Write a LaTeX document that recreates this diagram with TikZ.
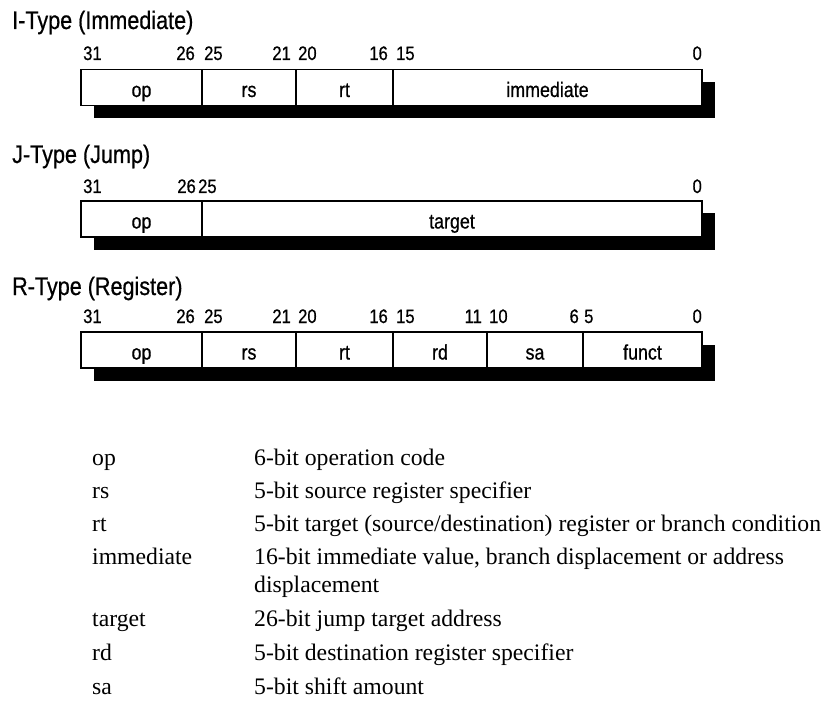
\documentclass[tikz,border=0pt]{standalone}
\usepackage{fontspec}
\setmainfont{Liberation Serif}
\newfontfamily\narrowsans{Liberation Sans}[FakeStretch=0.85, FakeBold=0.6]
\usetikzlibrary{positioning}

\begin{document}
\begin{tikzpicture}[x=1pt, y=-1pt,
  title/.style={anchor=base west, inner sep=0pt, font=\narrowsans\fontsize{25.4}{30}\selectfont},
  bitno/.style={inner sep=0pt, font=\narrowsans\fontsize{19.5}{22}\selectfont},
  field/.style={rectangle, draw=black, fill=white, line width=1.8pt, minimum height=36, inner sep=0pt, outer sep=0pt, text height=20, text depth=1, font=\narrowsans\fontsize{21}{24}\selectfont},
  shade/.style={fill=black},
  term/.style={anchor=base west, inner sep=0pt, font=\fontsize{23.7}{28}\selectfont},
  descr/.style={anchor=base west, inner sep=0pt, font=\fontsize{23.7}{28}\selectfont}
]
\useasboundingbox (0,0) rectangle (826,719);

% I-Type
\node[title] (ititle) at (12,29) {I-Type (Immediate)};
\fill[shade] (93.5,82) rectangle (714.5,118);
\node[field, minimum width=121] (iop) at (141.5,87.5) {op};
\node[field, minimum width=94] (irs) at (249,87.5) {rs};
\node[field, minimum width=97] (irt) at (344.5,87.5) {rt};
\node[field, minimum width=309] (iimm) at (547.5,87.5) {immediate};
\node[bitno, anchor=base west] (i31) at (83,60) {31};
\node[bitno, anchor=base east] (i26) at (195,60) {26};
\node[bitno, anchor=base west] (i25) at (204,60) {25};
\node[bitno, anchor=base east] (i21) at (291,60) {21};
\node[bitno, anchor=base west] (i20) at (298,60) {20};
\node[bitno, anchor=base east] (i16) at (388,60) {16};
\node[bitno, anchor=base west] (i15) at (396,60) {15};
\node[bitno, anchor=base east] (i0) at (702,60) {0};

% J-Type
\node[title] (jtitle) at (12,163) {J-Type (Jump)};
\fill[shade] (93.5,213.5) rectangle (714.5,249.5);
\node[field, minimum width=121] (jop) at (141.5,219) {op};
\node[field, minimum width=500] (jtarget) at (452,219) {target};
\node[bitno, anchor=base west] (j31) at (83,193) {31};
\node[bitno, anchor=base east] (j26) at (196,193) {26};
\node[bitno, anchor=base west] (j25) at (198,193) {25};
\node[bitno, anchor=base east] (j0) at (702,193) {0};

% R-Type
\node[title] (rtitle) at (12,295) {R-Type (Register)};
\fill[shade] (93.5,344.5) rectangle (714.5,380.5);
\node[field, minimum width=121] (rop) at (141.5,350) {op};
\node[field, minimum width=94] (rrs) at (249,350) {rs};
\node[field, minimum width=97] (rrt) at (344.5,350) {rt};
\node[field, minimum width=94] (rrd) at (440,350) {rd};
\node[field, minimum width=96] (rsa) at (535,350) {sa};
\node[field, minimum width=119] (rfunct) at (642.5,350) {funct};
\node[bitno, anchor=base west] (r31) at (83,323) {31};
\node[bitno, anchor=base east] (r26) at (195,323) {26};
\node[bitno, anchor=base west] (r25) at (204,323) {25};
\node[bitno, anchor=base east] (r21) at (291,323) {21};
\node[bitno, anchor=base west] (r20) at (298,323) {20};
\node[bitno, anchor=base east] (r16) at (388,323) {16};
\node[bitno, anchor=base west] (r15) at (396,323) {15};
\node[bitno, anchor=base east] (r11) at (482,323) {11};
\node[bitno, anchor=base west] (r10) at (489,323) {10};
\node[bitno, anchor=base east] (r6) at (579,323) {6};
\node[bitno, anchor=base west] (r5) at (584,323) {5};
\node[bitno, anchor=base east] (r0) at (702,323) {0};

% field legend
\node[term] (top) at (92,465) {op};
\node[descr] (dop) at (254,465) {6-bit operation code};
\node[term] (trs) at (92,498) {rs};
\node[descr] (drs) at (254,498) {5-bit source register specifier};
\node[term] (trt) at (92,531) {rt};
\node[descr] (drt) at (254,531) {5-bit target (source/destination) register or branch condition};
\node[term] (timm) at (92,564) {immediate};
\node[descr] (dimm) at (254,564) {16-bit immediate value, branch displacement or address};
\node[descr] (dimmb) at (254,592) {displacement};
\node[term] (ttarget) at (92,626) {target};
\node[descr] (dtarget) at (254,626) {26-bit jump target address};
\node[term] (trd) at (92,660) {rd};
\node[descr] (drd) at (254,660) {5-bit destination register specifier};
\node[term] (tsa) at (92,694) {sa};
\node[descr] (dsa) at (254,694) {5-bit shift amount};
\end{tikzpicture}
\end{document}
